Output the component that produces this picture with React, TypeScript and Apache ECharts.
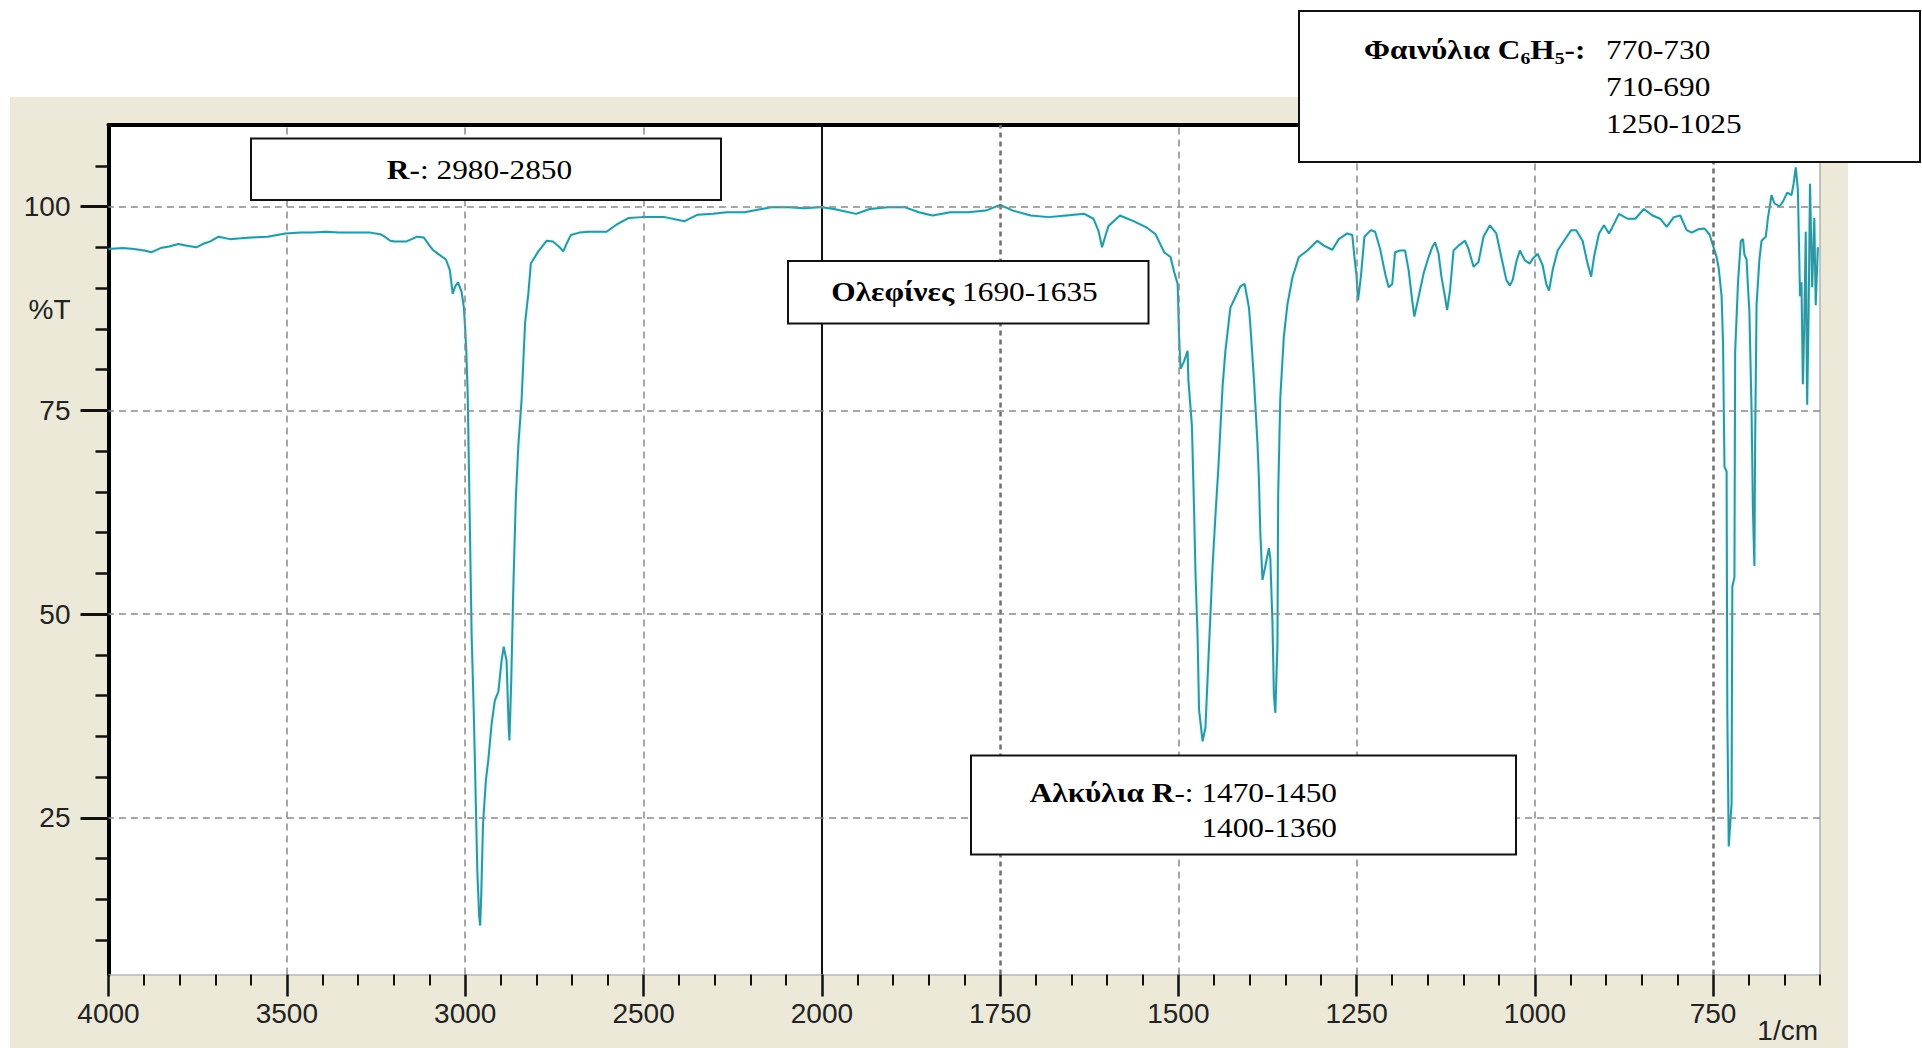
import React, { useEffect, useRef } from "react";
import * as echarts from "echarts";

// [wavenumber (1/cm), %T], 4000 -> 2000 region (compressed scale)
const spectrumHigh: number[][] = [
  [4000, 94.8], [3960, 94.9], [3929, 94.8], [3900, 94.6], [3879, 94.4], [3854, 94.9], [3830, 95.1],
  [3804, 95.4], [3780, 95.2], [3754, 95.0], [3730, 95.5], [3716, 95.7], [3691, 96.3], [3660, 96.0],
  [3629, 96.1], [3600, 96.2], [3554, 96.3], [3504, 96.7], [3460, 96.8], [3429, 96.8], [3390, 96.9],
  [3354, 96.8], [3300, 96.8], [3266, 96.8], [3238, 96.6], [3229, 96.4], [3210, 95.8], [3198, 95.7],
  [3166, 95.7], [3150, 96.0], [3135, 96.3], [3116, 96.2], [3100, 95.2], [3091, 94.7], [3073, 94.1],
  [3054, 93.5], [3043, 92.2], [3035, 89.3], [3028, 90.2], [3020, 90.7], [3010, 89.5], [3004, 87.7],
  [3000, 85.0], [2997, 82.3], [2993, 77.1], [2988, 63.7], [2982, 47.5], [2976, 38.0], [2973, 32.4],
  [2966, 18.5], [2961, 13.0], [2958, 11.8], [2955, 15.6], [2950, 24.3], [2942, 29.6], [2935, 32.2],
  [2926, 36.5], [2917, 39.4], [2907, 40.5], [2898, 44.3], [2892, 46.0], [2884, 44.3], [2878, 36.0],
  [2876, 34.5], [2871, 41.7], [2865, 53.3], [2858, 64.3], [2851, 70.7], [2842, 76.2], [2832, 85.8],
  [2823, 89.3], [2816, 93.0], [2809, 93.5], [2795, 94.5], [2772, 95.8], [2754, 95.7], [2735, 95.0],
  [2725, 94.5], [2715, 95.5], [2704, 96.5], [2680, 96.8], [2654, 96.9], [2604, 96.9], [2575, 97.8],
  [2541, 98.6], [2504, 98.7], [2441, 98.7], [2385, 98.2], [2348, 99.0], [2305, 99.1], [2267, 99.3],
  [2217, 99.3], [2180, 99.6], [2142, 99.9], [2092, 99.9], [2050, 99.8], [2008, 99.9], [2000, 99.9],
];

// [wavenumber (1/cm), %T], 2000 -> 600 region (expanded scale)
const spectrumLow: number[][] = [
  [2000, 99.9], [1983, 99.7], [1952, 99.1], [1933, 99.7], [1908, 99.9], [1883, 99.9], [1864, 99.3],
  [1845, 98.9], [1820, 99.3], [1795, 99.3], [1770, 99.5], [1750, 100.2], [1732, 99.5], [1707, 98.9],
  [1682, 98.7], [1657, 98.9], [1632, 99.1], [1619, 98.5], [1612, 97.0], [1607, 95.0], [1602, 96.5],
  [1598, 97.6], [1582, 98.9], [1563, 98.2], [1544, 97.4], [1532, 96.6], [1520, 94.4], [1511, 93.8],
  [1506, 92.0], [1501, 90.5], [1499, 84.1], [1497, 80.1], [1492, 81.0], [1487, 82.3], [1486, 78.8],
  [1481, 73.1], [1478, 63.0], [1476, 55.1], [1473, 47.1], [1471, 38.3], [1466, 34.4], [1462, 36.1],
  [1458, 44.1], [1452, 55.9], [1448, 62.1], [1444, 67.8], [1438, 77.9], [1434, 82.3], [1427, 87.6],
  [1420, 88.9], [1413, 90.2], [1407, 90.5], [1401, 87.6], [1399, 85.4], [1394, 78.8], [1389, 70.9],
  [1387, 66.5], [1385, 59.9], [1382, 54.2], [1378, 55.9], [1373, 58.1], [1371, 56.8], [1368, 48.9],
  [1366, 40.1], [1364, 37.9], [1361, 46.3], [1360, 64.7], [1357, 76.6], [1352, 84.1], [1347, 88.0],
  [1340, 91.3], [1331, 93.8], [1319, 94.6], [1305, 95.8], [1296, 95.2], [1284, 94.7], [1275, 96.0],
  [1263, 96.7], [1256, 96.5], [1253, 93.8], [1250, 91.4], [1248, 88.5], [1244, 91.4], [1239, 96.3],
  [1230, 97.1], [1224, 96.9], [1217, 94.8], [1210, 91.8], [1205, 90.1], [1200, 90.5], [1196, 94.4],
  [1189, 94.6], [1182, 94.6], [1177, 92.2], [1172, 88.5], [1169, 86.5], [1164, 88.5], [1156, 91.8],
  [1149, 93.8], [1144, 95.0], [1140, 95.6], [1135, 94.2], [1131, 91.4], [1126, 88.9], [1123, 87.3],
  [1119, 89.7], [1114, 94.6], [1107, 95.2], [1098, 95.8], [1093, 94.8], [1086, 92.6], [1079, 93.2],
  [1072, 96.3], [1063, 97.7], [1054, 96.7], [1047, 93.8], [1040, 91.0], [1035, 90.3], [1031, 91.0],
  [1026, 93.2], [1021, 94.6], [1014, 93.4], [1007, 93.0], [1003, 93.6], [996, 94.2], [989, 92.8],
  [984, 90.5], [980, 89.7], [975, 92.2], [968, 94.6], [959, 95.8], [949, 97.1], [942, 97.1],
  [933, 95.8], [926, 93.0], [921, 91.4], [917, 93.8], [910, 96.7], [903, 97.7], [896, 96.7],
  [891, 97.5], [882, 99.1], [870, 98.5], [859, 98.5], [847, 99.7], [835, 98.9], [824, 98.5],
  [815, 97.5], [805, 98.7], [796, 98.9], [787, 97.1], [780, 96.8], [771, 97.2], [762, 97.3],
  [755, 96.6], [750, 95.2], [745, 93.8], [742, 92.4], [738, 89.0], [736, 83.3], [734, 68.1],
  [731, 67.5], [730, 38.1], [728, 21.5], [724, 26.8], [723, 53.4], [720, 54.5], [719, 82.2],
  [715, 90.7], [711, 95.8], [708, 96.0], [706, 94.1], [703, 93.5], [701, 90.1], [699, 87.0],
  [696, 74.9], [694, 62.4], [692, 55.9], [691, 70.9], [689, 87.9], [685, 93.5], [682, 95.8],
  [676, 96.3], [673, 98.6], [668, 101.4], [664, 100.4], [657, 100.0], [652, 100.6], [646, 101.7],
  [640, 101.4], [637, 102.8], [634, 104.8], [631, 102.0], [628, 89.0], [626, 90.7], [624, 78.2],
  [622, 85.6], [620, 96.9], [618, 75.7], [616, 86.7], [614, 102.8], [611, 90.1], [608, 98.6],
  [606, 87.9], [603, 95.0],
];

const xMajorHigh = [4000, 3500, 3000, 2500, 2000];
const xMinorHigh = [3900, 3800, 3700, 3600, 3400, 3300, 3200, 3100, 2900, 2800, 2700, 2600, 2400, 2300, 2200, 2100];
const xMajorLow = [1750, 1500, 1250, 1000, 750];
const xMinorLow = [1950, 1900, 1850, 1800, 1700, 1650, 1600, 1550, 1450, 1400, 1350, 1300, 1200, 1150, 1100, 1050, 950, 900, 850, 800, 700, 650, 600];
const xGridHigh = [3500, 3000, 2500];
const xGridLow = [1750, 1500, 1250, 1000, 750];
const xGridBold = [1750, 750];
const yLabels = [25, 50, 75, 100];
const yMinor = [10, 15, 20, 30, 35, 40, 45, 55, 60, 65, 70, 80, 85, 90, 95, 105];

const Y_MIN = 5.8;
const Y_MAX = 110;

const SANS = "'Liberation Sans', Arial, sans-serif";
const SERIF = "'Liberation Serif', 'Times New Roman', serif";
const FS = 27;
const SX = 1.16;

const rich = {
  b: { fontFamily: SERIF, fontSize: FS, fontWeight: "bold", fill: "#000", lineHeight: 34 },
  r: { fontFamily: SERIF, fontSize: FS, fill: "#000", lineHeight: 34 },
  s: { fontFamily: SERIF, fontSize: 17, fontWeight: "bold", fill: "#000", verticalAlign: "bottom", lineHeight: 17 },
};

function textEl(x: number, y: number, text: string, align: string) {
  return {
    type: "text",
    x,
    y,
    scaleX: SX,
    z: 101,
    style: { text, rich, align, verticalAlign: "middle", fontFamily: SERIF, fontSize: FS, fill: "#000" },
  };
}

function boxEl(x: number, y: number, w: number, h: number) {
  return {
    type: "rect",
    z: 100,
    shape: { x, y, width: w, height: h },
    style: { fill: "#fff", stroke: "#111", lineWidth: 2 },
  };
}

const gridLineStyle = { type: [7, 5], color: "#8a8a8a", width: 1.5 };
const gridLineBold = { type: [5, 4], color: "#6f6f6f", width: 2.5 };

function buildOption() {
  const labelStyle = { fontFamily: SANS, fontSize: 28, color: "#222", formatter: (v: number) => String(v) };
  const hLines = yLabels.map((v) => ({ yAxis: v }));
  return {
    animation: false,
    backgroundColor: "#ffffff",
    grid: [
      { left: 108.5, top: 125, width: 713.4, height: 849.5, containLabel: false, outerBoundsMode: "none" },
      { left: 821.9, top: 125, width: 998.1, height: 849.5, containLabel: false, outerBoundsMode: "none" },
    ],
    xAxis: [
      {
        gridIndex: 0, type: "value", min: 2000, max: 4000, inverse: true, position: "bottom",
        axisLine: { show: true, onZero: false, lineStyle: { color: "#b9b9b9", width: 1.5 } },
        axisTick: { show: true, customValues: xMajorHigh, length: 22, lineStyle: { color: "#111", width: 2.5 } },
        axisLabel: { show: true, customValues: xMajorHigh, margin: 25, ...labelStyle },
        splitLine: { show: false },
      },
      {
        gridIndex: 0, type: "value", min: 2000, max: 4000, inverse: true, position: "bottom",
        axisLine: { show: false, onZero: false },
        axisTick: { show: true, customValues: xMinorHigh, length: 11, lineStyle: { color: "#111", width: 2 } },
        axisLabel: { show: false },
        splitLine: { show: false },
      },
      {
        gridIndex: 1, type: "value", min: 600, max: 2000, inverse: true, position: "bottom",
        axisLine: { show: true, onZero: false, lineStyle: { color: "#b9b9b9", width: 1.5 } },
        axisTick: { show: true, customValues: xMajorLow, length: 22, lineStyle: { color: "#111", width: 2.5 } },
        axisLabel: { show: true, customValues: xMajorLow, margin: 25, ...labelStyle },
        splitLine: { show: false },
      },
      {
        gridIndex: 1, type: "value", min: 600, max: 2000, inverse: true, position: "bottom",
        axisLine: { show: false, onZero: false },
        axisTick: { show: true, customValues: xMinorLow, length: 11, lineStyle: { color: "#111", width: 2 } },
        axisLabel: { show: false },
        splitLine: { show: false },
      },
      {
        gridIndex: 0, type: "value", min: 2000, max: 4000, inverse: true, position: "top",
        axisLine: { show: true, onZero: false, lineStyle: { color: "#000", width: 4 } },
        axisTick: { show: false }, axisLabel: { show: false }, splitLine: { show: false },
      },
      {
        gridIndex: 1, type: "value", min: 600, max: 2000, inverse: true, position: "top",
        axisLine: { show: true, onZero: false, lineStyle: { color: "#000", width: 4 } },
        axisTick: { show: false }, axisLabel: { show: false }, splitLine: { show: false },
      },
    ],
    yAxis: [
      {
        gridIndex: 0, type: "value", min: Y_MIN, max: Y_MAX, position: "left",
        axisLine: { show: true, onZero: false, lineStyle: { color: "#000", width: 4 } },
        axisTick: { show: true, customValues: yLabels, length: 28, lineStyle: { color: "#111", width: 3 } },
        axisLabel: { show: true, customValues: yLabels, margin: 38, ...labelStyle },
        splitLine: { show: false },
      },
      {
        gridIndex: 0, type: "value", min: Y_MIN, max: Y_MAX, position: "left",
        axisLine: { show: false, onZero: false },
        axisTick: { show: true, customValues: yMinor, length: 13, lineStyle: { color: "#111", width: 2.5 } },
        axisLabel: { show: false },
        splitLine: { show: false },
      },
      {
        gridIndex: 1, type: "value", min: Y_MIN, max: Y_MAX, position: "left",
        axisLine: { show: true, onZero: false, lineStyle: { color: "#111", width: 2 } },
        axisTick: { show: false }, axisLabel: { show: false }, splitLine: { show: false },
      },
      {
        gridIndex: 1, type: "value", min: Y_MIN, max: Y_MAX, position: "right",
        axisLine: { show: true, onZero: false, lineStyle: { color: "#b0b0b0", width: 1.5 } },
        axisTick: { show: false }, axisLabel: { show: false }, splitLine: { show: false },
      },
    ],
    series: [
      {
        type: "line", xAxisIndex: 0, yAxisIndex: 0, data: [], z: 1, silent: true,
        markLine: {
          silent: true, symbol: ["none", "none"], label: { show: false }, lineStyle: gridLineStyle,
          data: [...xGridHigh.map((v) => ({ xAxis: v })), ...hLines],
        },
      },
      {
        type: "line", xAxisIndex: 2, yAxisIndex: 2, data: [], z: 1, silent: true,
        markLine: {
          silent: true, symbol: ["none", "none"], label: { show: false }, lineStyle: gridLineStyle,
          data: [
            ...xGridLow.map((v) => (xGridBold.includes(v) ? { xAxis: v, lineStyle: gridLineBold } : { xAxis: v })),
            ...hLines,
          ],
        },
      },
      {
        type: "line", xAxisIndex: 0, yAxisIndex: 0, data: spectrumHigh, z: 3,
        symbol: "none", showSymbol: false, silent: true,
        lineStyle: { color: "#2a97a2", width: 2, shadowColor: "rgba(110,215,225,0.45)", shadowBlur: 3 },
      },
      {
        type: "line", xAxisIndex: 2, yAxisIndex: 2, data: spectrumLow, z: 3,
        symbol: "none", showSymbol: false, silent: true,
        lineStyle: { color: "#2a97a2", width: 2, shadowColor: "rgba(110,215,225,0.45)", shadowBlur: 3 },
      },
    ],
    graphic: [
      { type: "rect", z: -10, silent: true, shape: { x: 10, y: 97, width: 1838, height: 960 }, style: { fill: "#ECE9D8" } },
      { type: "rect", z: -9, silent: true, shape: { x: 108.5, y: 125, width: 1711.5, height: 849.5 }, style: { fill: "#ffffff" } },
      {
        type: "text", x: 70.5, y: 309, z: 5,
        style: { text: "%T", align: "right", verticalAlign: "middle", fontFamily: SANS, fontSize: 28, fill: "#222" },
      },
      {
        type: "text", x: 1818, y: 1016, z: 5,
        style: { text: "1/cm", align: "right", verticalAlign: "top", fontFamily: SANS, fontSize: 28, fill: "#222" },
      },
      boxEl(251, 138.5, 470, 61.5),
      textEl(479.5, 169.5, "{b|R-}{r|: 2980-2850}", "center"),
      boxEl(788, 261, 360.5, 62.5),
      textEl(964.5, 291.5, "{b|Ολεφίνες}{r| 1690-1635}", "center"),
      boxEl(971, 755.5, 545, 99),
      textEl(1337, 792.5, "{b|Αλκύλια R}{r|-: 1470-1450}", "right"),
      textEl(1337, 827.5, "{r|1400-1360}", "right"),
      boxEl(1299, 11, 621, 151),
      textEl(1364, 50, "{b|Φαινύλια C}{s|6}{b|H}{s|5}{b|-:}", "left"),
      textEl(1606, 50, "{r|770-730}", "left"),
      textEl(1606, 86.5, "{r|710-690}", "left"),
      textEl(1606, 123.5, "{r|1250-1025}", "left"),
    ],
  };
}

export default function App() {
  const ref = useRef<HTMLDivElement>(null);
  useEffect(() => {
    if (!ref.current) return;
    const chart = echarts.init(ref.current, null, { renderer: "svg" });
    chart.setOption(buildOption() as any);
    return () => chart.dispose();
  }, []);
  return (
    <div
      ref={ref}
      style={{ position: "fixed", left: 0, top: 0, width: 1922, height: 1048, background: "#fff" }}
    />
  );
}
